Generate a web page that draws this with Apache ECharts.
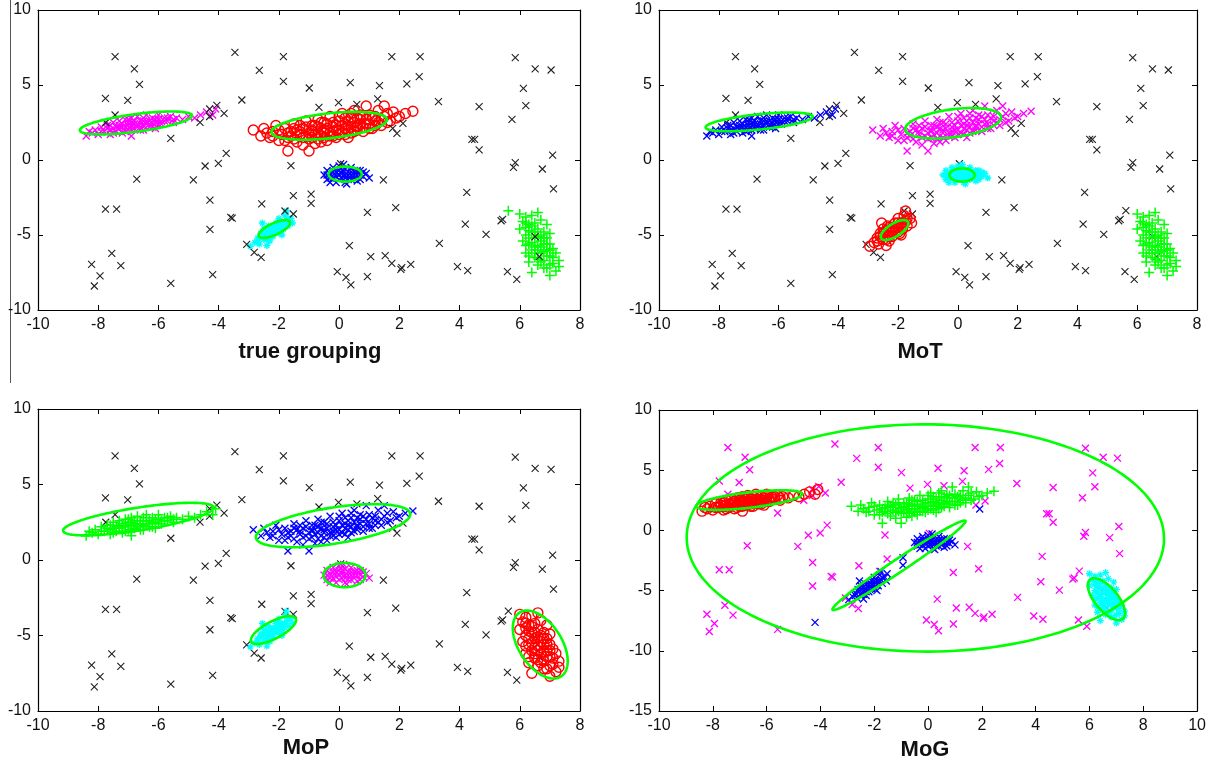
<!DOCTYPE html>
<html>
<head>
<meta charset="utf-8">
<title>Clustering comparison</title>
<script src="https://cdn.jsdelivr.net/npm/echarts@6/dist/echarts.min.js"></script>
<style>
  html, body { margin: 0; padding: 0; background: #fff; }
  #chart { width: 1209px; height: 763px; }
</style>
</head>
<body>
<div id="chart"></div>
<script>
/* -----------------------------
   Four-panel clustering comparison (true grouping / MoT / MoP / MoG)
   ----------------------------- */

// Panel titles
const panelTitles = ["true grouping", "MoT", "MoP", "MoG"];

// Background points (scattered noise)
const outliers = [
  [-7.44, 6.89], [-6.80, 6.07], [-6.63, 5.04], [-7.76, 4.11], [-7.02, 3.98], [-7.44, 3.0], [-7.75, 2.5],
  [-4.62, 2.51], [-5.59, 1.44], [-6.72, -1.27], [-4.84, -1.33], [-4.45, -0.4], [-4.01, -0.22],
  [-4.29, -2.67], [-4.29, -4.62], [-7.76, -3.27], [-7.39, -3.27], [-7.55, -6.22], [-7.25, -7.04],
  [-8.22, -6.96], [-7.94, -7.73], [-8.13, -8.4], [-5.59, -8.22],
  [-4.06, 3.64], [-4.3, 3.4], [-4.3, 2.9], [-3.82, 3.11], [-3.46, 7.18], [-1.85, 6.89], [-2.65, 5.98], [-1.85, 5.24],
  [-0.99, 4.8], [0.37, 5.16], [1.34, 4.96], [1.75, 6.89], [2.25, 5.07], [-3.23, 4.0],
  [-0.67, 3.51], [-0.02, 3.82], [0.59, 3.71], [1.28, 4.07], [1.78, 2.11], [2.12, 2.44],
  [-3.75, 0.44], [-1.6, -0.38], [0.05, -0.25], [1.47, -1.33], [-1.52, -2.38], [-2.57, -2.93], [-1.8, -3.4],
  [-3.6, -3.82], [-3.55, -3.88], [0.94, -3.49], [1.88, -3.18],
  [-3.07, -5.62], [-2.82, -6.16], [-2.59, -6.49], [0.34, -5.71], [1.05, -6.44], [1.53, -6.38], [1.75, -6.89], [2.05, -7.29],
  [-0.06, -7.44], [0.23, -7.82], [0.39, -8.33], [0.94, -7.78],
  [2.66, 5.56], [2.69, 6.89], [3.3, 3.89], [4.65, 3.56], [4.41, 1.38], [4.5, 1.38], [4.65, 0.67],
  [5.85, 6.82], [6.51, 6.07], [7.04, 6.0], [6.12, 4.78], [6.2, 3.62], [5.74, 2.71],
  [7.09, 0.33], [5.85, -0.18], [5.79, -0.49], [6.75, -0.6], [7.12, -1.93], [4.24, -2.16],
  [4.19, -4.27], [5.43, -3.96], [5.38, -4.05], [4.88, -4.96], [3.33, -5.56], [2.38, -6.96], [2.08, -7.18],
  [3.93, -7.11], [4.27, -7.38], [5.59, -7.44], [5.9, -7.96], [6.51, -5.11], [6.65, -6.44]
];

// Noise points that MoG puts in the blue component
const outliersNearBlue = [[-4.2, -7.64], [1.92, 1.78], [-0.93, -2.27], [-0.93, -2.89], [-1.52, -3.6]];

// Lone point belonging to cluster E in the true grouping
const strayPoint = [[5.62, -3.38]];

// Cluster A (left, elongated)
const clusterA = [
  [-8.4, 1.6], [-8.3, 1.9], [-8.1, 2.0], [-8.0, 1.7], [-7.9, 2.2], [-7.8, 1.9], [-7.7, 2.3], [-7.6, 2.0],
  [-7.6, 1.7], [-7.5, 2.5], [-7.4, 2.2], [-7.4, 1.9], [-7.3, 2.6], [-7.3, 2.1], [-7.2, 2.4], [-7.2, 1.8],
  [-7.1, 2.7], [-7.1, 2.2], [-7.0, 2.5], [-7.0, 2.0], [-6.9, 1.6], [-6.9, 2.8], [-6.9, 2.3], [-6.8, 2.6],
  [-6.8, 2.1], [-6.7, 2.4], [-6.7, 2.9], [-6.6, 2.2], [-6.6, 2.6], [-6.5, 2.0], [-6.5, 2.8], [-6.4, 2.4],
  [-6.4, 3.0], [-6.3, 2.6], [-6.3, 2.2], [-6.2, 2.8], [-6.1, 2.5], [-6.1, 2.1], [-6.0, 2.7], [-6.0, 3.0],
  [-5.9, 2.4], [-5.8, 2.8], [-5.7, 2.6], [-5.6, 2.9], [-5.5, 2.5], [-5.4, 2.8], [-5.2, 2.7], [-5.0, 2.9],
  [-4.8, 2.8], [-4.6, 3.0], [-4.4, 3.2], [-4.2, 3.0], [-4.1, 3.4],
  [-7.5, 2.1], [-7.2, 2.2], [-7.0, 2.3], [-6.8, 2.4], [-6.6, 2.4], [-6.4, 2.6], [-6.2, 2.5], [-6.0, 2.4],
  [-5.8, 2.6], [-7.6, 2.3], [-6.9, 2.0], [-6.5, 2.3], [-6.2, 2.2],
  [-8.2, 1.8], [-7.9, 1.9], [-7.7, 2.1], [-7.5, 1.8], [-7.3, 2.3], [-7.1, 1.9], [-6.9, 2.5], [-6.7, 2.2],
  [-6.5, 2.6], [-6.3, 2.4], [-6.1, 2.7], [-5.9, 2.6], [-5.7, 2.8], [-5.5, 2.7], [-6.6, 2.0], [-7.0, 2.7]
];

// Cluster B (centre, elongated, large)
const clusterB = [
  [-2.85, 2.0], [-2.6, 1.6], [-2.5, 2.1], [-2.3, 1.5], [-2.2, 1.9], [-2.1, 2.3], [-2.0, 1.3], [-1.9, 1.7],
  [-1.8, 2.1], [-1.7, 0.6], [-1.7, 1.5], [-1.6, 1.9], [-1.5, 2.4], [-1.4, 1.2], [-1.3, 1.7], [-1.2, 2.1],
  [-1.1, 2.6], [-1.0, 0.6], [-1.0, 1.4], [-0.9, 1.9], [-0.8, 2.3], [-0.8, 1.1], [-0.7, 2.7], [-0.6, 1.6],
  [-0.5, 2.0], [-0.5, 2.5], [-0.4, 1.3], [-0.3, 2.9], [-0.3, 1.8], [-0.2, 2.2], [-0.1, 1.5], [0.0, 2.6],
  [0.0, 2.0], [0.1, 3.1], [0.2, 1.7], [0.2, 2.4], [0.3, 2.0], [0.4, 2.8], [0.5, 1.9], [0.5, 3.3],
  [0.6, 2.3], [0.7, 2.7], [0.8, 1.9], [0.9, 3.6], [0.9, 2.4], [1.0, 3.0], [1.1, 2.1], [1.2, 2.6],
  [1.3, 3.3], [1.4, 2.3], [1.5, 3.6], [1.5, 2.9], [1.7, 2.6], [1.8, 3.2], [2.0, 2.9], [2.2, 3.1], [2.45, 3.25],
  [-1.6, 1.6], [-1.4, 2.0], [-1.2, 1.5], [-1.0, 1.8], [-0.9, 2.3], [-0.7, 1.4], [-0.6, 2.1], [-0.4, 2.4],
  [-0.2, 1.6], [-0.1, 2.0], [0.1, 2.3], [0.1, 1.8], [0.3, 2.6], [0.4, 2.2], [0.6, 2.0], [0.7, 2.4],
  [0.8, 2.9], [1.0, 2.4], [1.1, 2.8], [1.3, 2.5], [-0.5, 1.5], [-0.8, 1.7], [0.3, 1.5], [-1.3, 2.3], [0.6, 2.8],
  [-2.4, 1.8], [-2.2, 1.6], [-2.0, 2.0], [-1.8, 1.3], [-1.7, 1.8], [-1.5, 1.4], [-1.5, 2.1], [-1.3, 1.9],
  [-1.1, 1.6], [-1.1, 2.2], [-0.9, 1.5], [-0.9, 2.0], [-0.7, 1.8], [-0.7, 2.2], [-0.6, 2.5], [-0.5, 1.8],
  [-0.4, 2.1], [-0.3, 1.6], [-0.2, 2.5], [-0.2, 1.9], [-0.1, 2.3], [0.0, 1.7], [0.0, 2.9], [0.2, 2.1],
  [0.2, 2.8], [0.3, 2.3], [0.4, 1.8], [0.5, 2.5], [0.6, 2.2], [0.7, 3.0], [0.8, 2.2], [0.9, 2.7],
  [1.0, 2.1], [1.2, 2.3], [1.2, 2.9], [1.4, 2.7], [1.6, 2.5], [1.6, 3.1], [1.9, 2.8], [-1.2, 1.0],
  [-0.6, 1.2], [0.4, 3.1]
];

// Cluster C (compact, near origin)
const clusterC = [
  [-0.5, -1.0], [-0.4, -0.7], [-0.4, -1.3], [-0.3, -0.9], [-0.2, -0.5], [-0.2, -1.2], [-0.1, -0.8], [-0.1, -1.5],
  [0.0, -1.0], [0.0, -0.4], [0.1, -1.2], [0.1, -0.7], [0.2, -1.0], [0.2, -1.5], [0.3, -0.8], [0.3, -1.3],
  [0.4, -0.5], [0.4, -1.0], [0.5, -1.2], [0.5, -0.8], [0.6, -1.0], [0.6, -1.4], [0.7, -0.7], [0.8, -1.1],
  [0.9, -0.9], [1.0, -1.2], [0.15, -0.3], [0.25, -1.6], [-0.3, -1.5], [0.7, -1.3],
  [-0.3, -1.2], [-0.2, -0.8], [-0.1, -1.1], [0.0, -0.7], [0.0, -1.3], [0.1, -0.9], [0.2, -0.6], [0.2, -1.2],
  [0.3, -1.0], [0.4, -1.3], [0.4, -0.8], [0.5, -1.0], [0.6, -0.7], [0.7, -1.0], [0.8, -0.8], [-0.4, -1.0]
];

// Cluster D (small, tilted)
const clusterD = [
  [-2.95, -5.75], [-2.8, -5.5], [-2.7, -5.2], [-2.65, -5.6], [-2.6, -4.9], [-2.5, -5.3], [-2.5, -4.6], [-2.4, -5.0],
  [-2.35, -4.4], [-2.3, -5.4], [-2.3, -4.8], [-2.2, -4.5], [-2.2, -5.1], [-2.1, -4.2], [-2.1, -4.8], [-2.0, -4.5],
  [-2.0, -3.9], [-1.95, -4.9], [-1.9, -4.2], [-1.85, -4.6], [-1.8, -3.7], [-1.75, -4.1], [-1.7, -4.4], [-1.6, -3.9],
  [-1.55, -4.2], [-1.75, -3.4], [-2.4, -5.7], [-2.55, -4.2], [-1.9, -5.0], [-2.15, -4.65],
  [-2.6, -5.1], [-2.5, -4.9], [-2.4, -4.7], [-2.3, -5.1], [-2.2, -4.8], [-2.1, -4.5], [-2.0, -4.2], [-2.0, -4.8],
  [-1.9, -4.5], [-1.8, -4.2], [-2.3, -4.5], [-2.4, -5.3], [-1.7, -3.9], [-2.7, -5.4]
];

// Cluster E (right, steep)
const clusterE = [
  [6.0, -3.6], [6.1, -4.1], [6.0, -4.6], [6.2, -3.8], [6.3, -4.3], [6.2, -5.0], [6.1, -5.4], [6.4, -3.7],
  [6.4, -4.8], [6.3, -5.6], [6.2, -6.2], [6.5, -4.2], [6.5, -5.2], [6.4, -6.0], [6.3, -6.8], [6.6, -4.6],
  [6.6, -5.7], [6.5, -6.5], [6.4, -7.5], [6.7, -4.0], [6.7, -5.0], [6.7, -6.2], [6.6, -7.0], [6.8, -4.8],
  [6.8, -5.6], [6.8, -6.7], [6.9, -5.2], [6.9, -6.0], [6.9, -7.2], [7.0, -5.6], [7.0, -6.4], [7.0, -7.7],
  [7.1, -5.9], [7.1, -6.9], [7.2, -6.2], [7.3, -6.7], [7.3, -7.1], [6.2, -4.5], [6.6, -3.5], [7.0, -4.9], [6.9, -4.3],
  [6.2, -4.2], [6.3, -4.7], [6.3, -5.2], [6.4, -4.4], [6.4, -5.5], [6.5, -4.8], [6.5, -5.8], [6.5, -6.2],
  [6.6, -5.1], [6.6, -6.0], [6.6, -6.6], [6.7, -5.4], [6.7, -5.8], [6.7, -6.8], [6.8, -5.2], [6.8, -6.1],
  [6.8, -7.2], [6.9, -5.6], [6.9, -6.4], [7.0, -6.0], [7.0, -7.0], [7.1, -6.5], [6.3, -6.4], [6.2, -5.7], [7.2, -7.4]
];

// Fitted component ellipses: [cx, cy, semi-axis a, semi-axis b, angle (deg)]
const ellipsesTrue = [
  [-6.75, 2.47, 1.93, 0.57, 16], [-0.33, 2.28, 1.97, 0.81, 14.7],
  [0.2, -0.94, 0.55, 0.5, 0], [-2.15, -4.6, 0.73, 0.3, 50]
];
const ellipsesMoT = [
  [-6.65, 2.54, 1.83, 0.5, 12.3], [-0.16, 2.45, 1.67, 0.9, 19.4],
  [0.14, -1.0, 0.42, 0.44, 0], [-2.12, -4.67, 0.75, 0.3, 59.5]
];
const ellipsesMoP = [
  [-6.67, 2.71, 2.62, 0.73, 18.4], [-0.2, 2.27, 2.7, 1.15, 20.3], [0.18, -1.0, 0.7, 0.8, 0],
  [-2.18, -4.64, 1.11, 0.43, 53], [6.68, -5.6, 2.3, 0.78, -77.4]
];
const ellipsesMoG = [
  [-0.1, -0.63, 8.87, 9.44, 2.7], [-6.65, 2.52, 2.04, 0.62, 15.8],
  [-1.08, -2.9, 4.45, 0.36, 56.5], [6.63, -5.71, 1.8, 0.5, -74]
];

// Marker styles (MATLAB-like)
const X_PATH = "path://M0,0L10,10M10,0L0,10";
const PLUS_PATH = "path://M5,0L5,10M0,5L10,5";
const STAR_PATH = "path://M5,0L5,10M0,5L10,5M1.5,1.5L8.5,8.5M8.5,1.5L1.5,8.5";
const STYLES = {
  k: { symbol: X_PATH, color: "#222", size: 7, lw: 1.1 },
  m: { symbol: X_PATH, color: "#ff00ff", size: 7, lw: 1.3 },
  b: { symbol: X_PATH, color: "#0000ff", size: 7, lw: 1.3 },
  c: { symbol: STAR_PATH, color: "#00ffff", size: 7, lw: 1.3 },
  g: { symbol: PLUS_PATH, color: "#00ff00", size: 10, lw: 1.5 },
  r: { symbol: "circle", color: "#ff0000", size: 10, lw: 1.4, hollow: true }
};

const PANELS = [
  { left: 38, top: 10, width: 542, height: 300, xMax: 8, yMin: -10, ellipses: ellipsesTrue,
    labels: { A: "m", B: "r", C: "b", D: "c", E: "g", out: "k", near: "k", stray: "g" }, outTop: true,
    titleX: 310, titleY: 352 },
  { left: 659, top: 10, width: 538, height: 300, xMax: 8, yMin: -10, ellipses: ellipsesMoT,
    labels: { A: "b", B: "m", C: "c", D: "r", E: "g", out: "k", near: "k", stray: "k" }, outTop: false,
    titleX: 920, titleY: 352 },
  { left: 38, top: 409, width: 542, height: 302, xMax: 8, yMin: -10, ellipses: ellipsesMoP,
    labels: { A: "g", B: "b", C: "m", D: "c", E: "r", out: "k", near: "k", stray: "k" }, outTop: false,
    titleX: 306, titleY: 748 },
  { left: 659, top: 410, width: 540, height: 301, xMax: 10, yMin: -15, ellipses: ellipsesMoG,
    labels: { A: "r", B: "g", C: "b", D: "b", E: "c", out: "m", near: "b", stray: "m" }, outTop: false,
    titleX: 925, titleY: 750 }
];

function axisBase(showLabel) {
  return {
    type: "value",
    axisLine: { show: true, onZero: false, lineStyle: { color: "#000", width: 1.2 } },
    axisTick: { show: true, inside: true, length: 5, lineStyle: { color: "#000", width: 1 } },
    axisLabel: { show: showLabel, color: "#111", fontSize: 16, fontFamily: "Liberation Sans, Arial", margin: 7 },
    splitLine: { show: false }
  };
}

function scatterSeries(pts, key, gi, z) {
  const s = STYLES[key];
  return {
    type: "scatter",
    xAxisIndex: gi * 2,
    yAxisIndex: gi * 2,
    data: pts,
    symbol: s.symbol,
    symbolSize: s.size,
    z: z,
    silent: true,
    animation: false,
    itemStyle: s.hollow
      ? { color: "rgba(0,0,0,0)", borderColor: s.color, borderWidth: s.lw, opacity: 1 }
      : { color: s.color, borderColor: s.color, borderWidth: s.lw, opacity: 1 }
  };
}

function renderEllipse(params, api) {
  const cx = api.value(0), cy = api.value(1), a = api.value(2), b = api.value(3);
  const th = api.value(4) * Math.PI / 180;
  const pts = [];
  for (let i = 0; i < 160; i++) {
    const t = i / 160 * 2 * Math.PI;
    const x = cx + a * Math.cos(t) * Math.cos(th) - b * Math.sin(t) * Math.sin(th);
    const y = cy + a * Math.cos(t) * Math.sin(th) + b * Math.sin(t) * Math.cos(th);
    pts.push(api.coord([x, y]));
  }
  return {
    type: "polygon",
    shape: { points: pts },
    style: { fill: "none", stroke: "#00ff00", lineWidth: 2.6 }
  };
}

const grids = [], xAxes = [], yAxes = [], series = [], graphics = [];

PANELS.forEach((p, gi) => {
  grids.push({ left: p.left, top: p.top, width: p.width, height: p.height, containLabel: false });

  xAxes.push(Object.assign(axisBase(true), { gridIndex: gi, min: -10, max: p.xMax, interval: 2, position: "bottom" }));
  xAxes.push(Object.assign(axisBase(false), { gridIndex: gi, min: -10, max: p.xMax, interval: 2, position: "top" }));
  yAxes.push(Object.assign(axisBase(true), { gridIndex: gi, min: p.yMin, max: 10, interval: 5, position: "left" }));
  yAxes.push(Object.assign(axisBase(false), { gridIndex: gi, min: p.yMin, max: 10, interval: 5, position: "right" }));

  const L = p.labels;
  const outZ = p.outTop ? 6 : 2;
  series.push(scatterSeries(outliers, L.out, gi, outZ));
  series.push(scatterSeries(outliersNearBlue, L.near, gi, outZ));
  series.push(scatterSeries(strayPoint, L.stray, gi, outZ));
  series.push(scatterSeries(clusterA, L.A, gi, 3));
  series.push(scatterSeries(clusterB, L.B, gi, 3));
  series.push(scatterSeries(clusterC, L.C, gi, 3));
  series.push(scatterSeries(clusterD, L.D, gi, 3));
  series.push(scatterSeries(clusterE, L.E, gi, 3));

  series.push({
    type: "custom",
    xAxisIndex: gi * 2,
    yAxisIndex: gi * 2,
    renderItem: renderEllipse,
    data: p.ellipses,
    encode: { x: 0, y: 1 },
    z: 8,
    silent: true,
    animation: false
  });

  graphics.push({
    type: "text",
    x: p.titleX,
    y: p.titleY,
    style: {
      text: panelTitles[gi],
      align: "center",
      verticalAlign: "middle",
      fill: "#111",
      font: "bold 22px 'Liberation Sans', Arial"
    }
  });
});

// thin frame line down the left of the first panel
graphics.push({
  type: "line",
  shape: { x1: 10.5, y1: 0, x2: 10.5, y2: 383 },
  style: { stroke: "#555", lineWidth: 1 }
});

const chart = echarts.init(document.getElementById("chart"), null, { renderer: "canvas" });
chart.setOption({
  backgroundColor: "#fff",
  animation: false,
  grid: grids,
  xAxis: xAxes,
  yAxis: yAxes,
  series: series,
  graphic: graphics
});
</script>
</body>
</html>
